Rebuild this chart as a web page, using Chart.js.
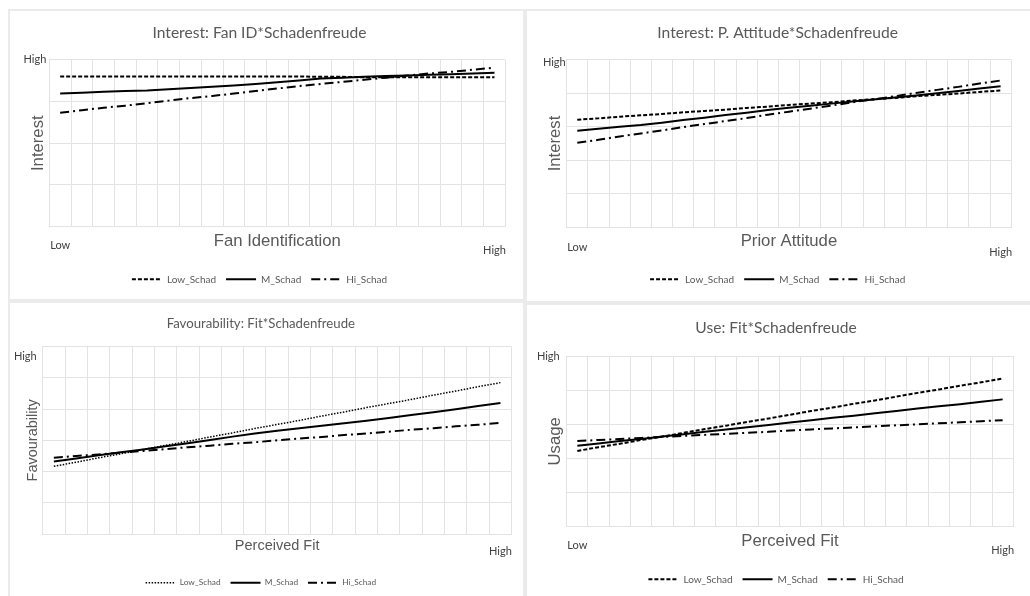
<!DOCTYPE html>
<html>
<head>
<meta charset="utf-8">
<script src="https://cdn.jsdelivr.net/npm/chart.js@4.4.1/dist/chart.umd.min.js"></script>
<style>
  html, body { margin: 0; padding: 0; background: #fff; width: 1030px; height: 596px; overflow: hidden; position: relative; }
  .panel { position: absolute; border: 2px solid #ebebeb; box-sizing: border-box; }
  canvas { position: absolute; }
</style>
</head>
<body>
<div class="panel" style="left:8px;top:9px;width:517px;height:292px"></div>
<div class="panel" style="left:525px;top:9px;width:515px;height:294px"></div>
<div class="panel" style="left:8px;top:301px;width:517px;height:310px"></div>
<div class="panel" style="left:525px;top:303px;width:515px;height:310px"></div>
<canvas id="c1" width="512" height="287" style="left:10px;top:11px"></canvas>
<canvas id="c2" width="502" height="289" style="left:528px;top:11px"></canvas>
<canvas id="c3" width="512" height="300" style="left:10px;top:304px"></canvas>
<canvas id="c4" width="502" height="290" style="left:528px;top:306px"></canvas>
<script>
// 21 points along the moderator axis (Excel line chart categories)
const steps = ['1','2','3','4','5','6','7','8','9','10','11','12','13','14','15','16','17','18','19','20','21'];
const xTicks = ['Low','','','','','','','','','','','','','','','','','','','','High'];
const xTicksFav = ['','','','','','','','','','','','','','','','','','','','','High'];
const seriesNames = ['Low_Schad', 'M_Schad', 'Hi_Schad'];

// Interest: Fan ID*Schadenfreude
const fanLow = [3.60,3.60,3.60,3.60,3.60,3.60,3.60,3.60,3.60,3.60,3.60,3.60,3.59,3.59,3.58,3.58,3.58,3.58,3.58,3.58,3.58];
const fanMid = [3.19,3.21,3.23,3.25,3.26,3.29,3.32,3.35,3.38,3.42,3.46,3.50,3.55,3.57,3.59,3.61,3.62,3.64,3.65,3.67,3.69];
const fanHi  = [2.73,2.79,2.85,2.90,2.96,3.02,3.08,3.13,3.19,3.25,3.31,3.37,3.42,3.47,3.52,3.57,3.62,3.67,3.71,3.76,3.81];
const yTicksFan = ['','','','','High'];

// Interest: P. Attitude*Schadenfreude
const attLow = [3.21,3.25,3.30,3.34,3.38,3.43,3.47,3.51,3.56,3.60,3.65,3.69,3.73,3.78,3.82,3.86,3.91,3.95,3.99,4.04,4.08];
const attMid = [2.88,2.94,3.00,3.05,3.12,3.20,3.27,3.35,3.42,3.50,3.57,3.63,3.69,3.75,3.81,3.87,3.93,4.00,4.07,4.14,4.21];
const attHi  = [2.52,2.61,2.71,2.80,2.89,2.99,3.08,3.17,3.26,3.36,3.45,3.54,3.63,3.73,3.82,3.91,4.01,4.10,4.19,4.29,4.38];
const yTicksAtt = ['','','','','','High'];

// Favourability: Fit*Schadenfreude
const favLow = [2.17,2.30,2.44,2.57,2.71,2.84,2.97,3.11,3.24,3.38,3.51,3.64,3.78,3.91,4.05,4.18,4.31,4.45,4.58,4.72,4.85];
const favMid = [2.32,2.42,2.52,2.62,2.71,2.81,2.91,3.01,3.12,3.22,3.31,3.39,3.47,3.55,3.63,3.72,3.81,3.90,4.00,4.10,4.20];
const favHi  = [2.44,2.50,2.55,2.61,2.66,2.72,2.78,2.83,2.89,2.94,3.00,3.06,3.11,3.17,3.22,3.28,3.34,3.39,3.45,3.50,3.56];
const yTicksFav = ['','','','','','','High'];

// Use: Fit*Schadenfreude
const useLow = [2.22,2.33,2.43,2.54,2.64,2.75,2.86,2.96,3.07,3.17,3.28,3.39,3.49,3.60,3.70,3.81,3.92,4.02,4.13,4.23,4.34];
const useMid = [2.37,2.44,2.51,2.57,2.64,2.71,2.78,2.85,2.91,2.98,3.05,3.12,3.19,3.25,3.32,3.39,3.46,3.53,3.59,3.66,3.73];
const useHi  = [2.51,2.54,2.57,2.60,2.63,2.66,2.69,2.72,2.75,2.78,2.82,2.85,2.88,2.91,2.94,2.97,3.00,3.03,3.06,3.09,3.12];
const yTicksUse = ['','','','','','High'];

const calibri = 'Lato, "Open Sans", sans-serif';
const arial = '"Liberation Sans", Arial, sans-serif';
const gridCol = '#e3e3e3';

function makeChart(id, title, xTitle, yTitle, values, xt, yt, g) {
  const dashes = [g.lowDash || [4, 2], [], [9, 4, 2, 4]];
  const widths = [g.lowWidth || 2, 2, 2];
  new Chart(document.getElementById(id), {
    type: 'line',
    data: {
      labels: steps,
      datasets: values.map((v, i) => ({
        label: seriesNames[i],
        data: v,
        borderColor: '#000',
        backgroundColor: '#000',
        borderWidth: widths[i],
        borderDash: dashes[i],
        pointRadius: 0,
        tension: 0
      }))
    },
    options: {
      responsive: false,
      animation: false,
      events: [],
      layout: { padding: { left: 0, right: g.padR, top: 0, bottom: g.padB } },
      plugins: {
        title: {
          display: true, text: title, color: '#595959',
          font: { family: calibri, size: g.titleSize, weight: 'normal', lineHeight: 1.2 },
          padding: { top: g.titleTop, bottom: g.titleBottom }
        },
        legend: {
          position: 'bottom',
          labels: {
            usePointStyle: true, pointStyle: 'line', pointStyleWidth: 30,
            color: '#595959', padding: 10,
            font: { family: calibri, size: g.legendSize },
            // point style legend ignores the dataset dash, so copy it over
            generateLabels: (chart) => Chart.defaults.plugins.legend.labels.generateLabels(chart)
              .map((it, i) => Object.assign(it, {
                lineDash: chart.data.datasets[i].borderDash,
                lineWidth: chart.data.datasets[i].borderWidth,
                strokeStyle: '#000'
              }))
          }
        },
        tooltip: { enabled: false }
      },
      scales: {
        x: {
          type: 'category', offset: true,
          grid: { offset: true, color: gridCol, drawTicks: false },
          border: { color: gridCol },
          ticks: {
            autoSkip: false, maxRotation: 0, color: '#404040', padding: g.xTickPad,
            font: { family: calibri, size: 11, lineHeight: '5px' },
            callback: (v, i) => (i === xt.length - 1 && xt[i]) ? ['', xt[i]] : xt[i]
          },
          title: {
            display: true, text: xTitle, color: '#595959',
            font: { family: arial, size: g.axisSize, lineHeight: 1 },
            padding: { top: 0, bottom: g.xTitlePad }
          },
          afterFit: (s) => { s.height = g.xHeight; }
        },
        y: {
          min: 0, max: yt.length - 1,
          grid: { color: gridCol, drawTicks: false },
          border: { color: gridCol },
          ticks: {
            stepSize: 1, color: '#404040', padding: g.yTickPad, labelOffset: g.yLabelOff,
            font: { family: calibri, size: 11 },
            callback: (v) => yt[v]
          },
          title: {
            display: true, text: yTitle, color: '#595959',
            font: { family: arial, size: g.axisSize, lineHeight: 1 },
            padding: { top: g.yTitlePad, bottom: 0 }
          },
          afterFit: (s) => { s.width = g.yWidth; }
        }
      }
    }
  });
}

makeChart('c1', 'Interest: Fan ID*Schadenfreude', 'Fan Identification', 'Interest',
  [fanLow, fanMid, fanHi], xTicks, yTicksFan,
  { padR: 13, padB: 3.7, titleSize: 15.6, titleTop: 12.8, titleBottom: 17.2, legendSize: 10,
    xTickPad: 15.8, axisSize: 16.7, xTitlePad: 15, xHeight: 37.6, yTickPad: 3, yLabelOff: 0,
    yTitlePad: 19.6, yWidth: 39.3 });

makeChart('c2', 'Interest: P. Attitude*Schadenfreude', 'Prior Attitude', 'Interest',
  [attLow, attMid, attHi], xTicks, yTicksAtt,
  { padR: 2.7, padB: 5.7, titleSize: 15.6, titleTop: 12.8, titleBottom: 17.2, legendSize: 10,
    xTickPad: 17.9, axisSize: 16.7, xTitlePad: 15, xHeight: 37, yTickPad: 1, yLabelOff: 2.5,
    yTitlePad: 19.3, yWidth: 38.7 });

makeChart('c3', 'Favourability: Fit*Schadenfreude', 'Perceived Fit', 'Favourability',
  [favLow, favMid, favHi], xTicksFav, yTicksFav,
  { padR: 10.3, padB: 7.2, titleSize: 13.2, titleTop: 11.4, titleBottom: 15.5, legendSize: 8.3,
    xTickPad: 9.9, axisSize: 14.5, xTitlePad: 14.85, xHeight: 34.5, yTickPad: 6, yLabelOff: 10,
    yTitlePad: 16, yWidth: 32.7, lowDash: [1.5, 1.5], lowWidth: 1.5 });

makeChart('c4', 'Use: Fit*Schadenfreude', 'Perceived Fit', 'Usage',
  [useLow, useMid, useHi], xTicks, yTicksUse,
  { padR: 6, padB: 1.7, titleSize: 15.6, titleTop: 13.1, titleBottom: 18.2, legendSize: 10,
    xTickPad: 15.8, axisSize: 16.7, xTitlePad: 14.95, xHeight: 37.6, yTickPad: 7, yLabelOff: 0,
    yTitlePad: 18.65, yWidth: 38.7 });
</script>
</body>
</html>
